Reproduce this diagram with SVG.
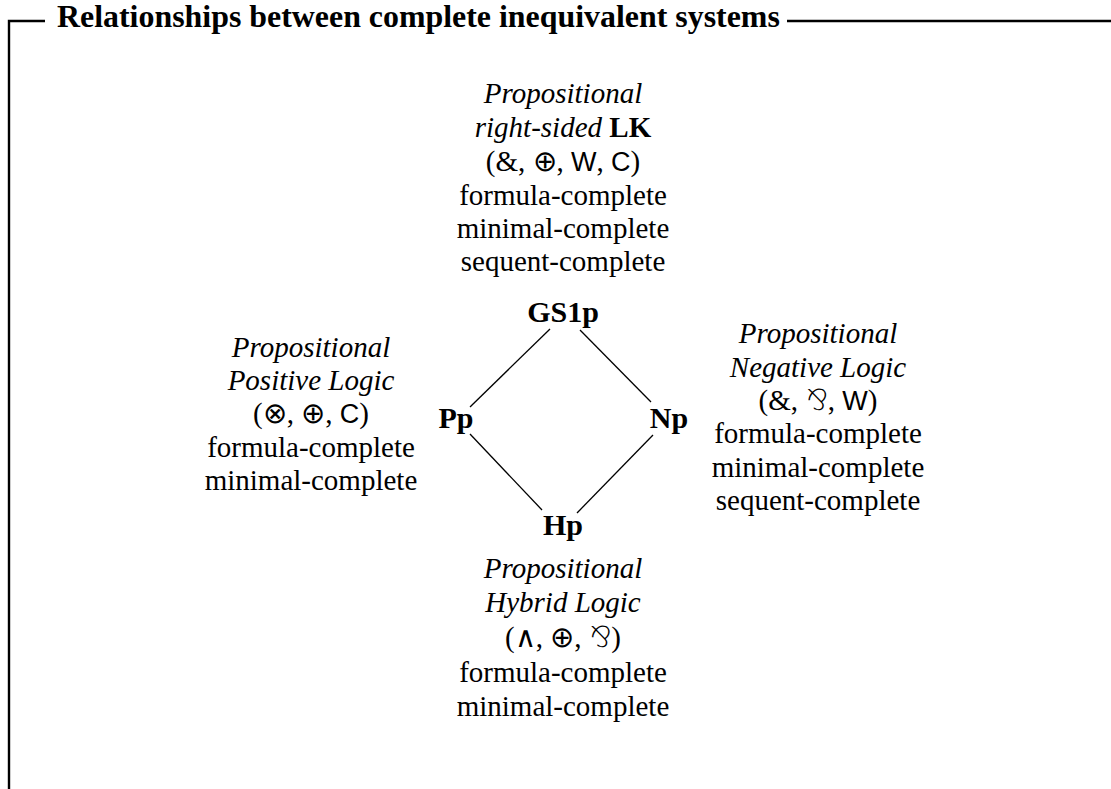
<svg xmlns="http://www.w3.org/2000/svg" width="1111" height="789" viewBox="0 0 1111 789">
<style>
.t{font-family:"Liberation Serif","Times New Roman",serif;font-size:29px;fill:#000;text-anchor:middle}
.i{font-style:italic}
.b{font-weight:bold}
.n{font-family:"Liberation Serif","Times New Roman",serif;font-size:30px;font-weight:bold;text-anchor:middle;fill:#000}
.sf{font-family:"Liberation Sans",Arial,sans-serif;font-size:27px}
.op{font-family:"DejaVu Sans",sans-serif;font-size:29px;font-weight:200}
.title{font-family:"Liberation Serif","Times New Roman",serif;font-size:31.9px;font-weight:bold;fill:#000}
.frame{fill:none;stroke:#000;stroke-width:2.4}
.edge{stroke:#000;stroke-width:1.3;fill:none}
</style>
<rect width="1111" height="789" fill="#fff"/>
<g id="frame">
<path class="frame" d="M9,789 V21 H45 M787,21 H1111"/>
<text class="title" x="57" y="27">Relationships between complete inequivalent systems</text>
</g>
<g id="connectors">
<line class="edge" x1="550" y1="329" x2="470" y2="407"/>
<line class="edge" x1="580" y1="330" x2="651" y2="402"/>
<line class="edge" x1="470" y1="434" x2="542" y2="510"/>
<line class="edge" x1="653" y1="435" x2="577" y2="513"/>
</g>
<g id="GS1p">
<text class="n" x="563" y="322">GS1p</text>
<text class="t i" x="563" y="103">Propositional</text>
<text class="t" x="563" y="137"><tspan class="i">right-sided </tspan><tspan class="b">LK</tspan></text>
<text class="t" x="563" y="171">(&amp;, <tspan class="op">⊕</tspan>, <tspan class="sf">W</tspan>, <tspan class="sf">C</tspan>)</text>
<text class="t" x="563" y="205">formula-complete</text>
<text class="t" x="563" y="238">minimal-complete</text>
<text class="t" x="563" y="271">sequent-complete</text>
</g>
<g id="Pp">
<text class="n" x="456" y="428">Pp</text>
<text class="t i" x="311" y="357">Propositional</text>
<text class="t i" x="311" y="390">Positive Logic</text>
<text class="t" x="311" y="423">(<tspan class="op">⊗</tspan>, <tspan class="op">⊕</tspan>, <tspan class="sf">C</tspan>)</text>
<text class="t" x="311" y="457">formula-complete</text>
<text class="t" x="311" y="490">minimal-complete</text>
</g>
<g id="Np">
<text class="n" x="669" y="428">Np</text>
<text class="t i" x="818" y="343">Propositional</text>
<text class="t i" x="818" y="377">Negative Logic</text>
<text class="t" x="818" y="410">(&amp;, <tspan class="op">⅋</tspan>, <tspan class="sf">W</tspan>)</text>
<text class="t" x="818" y="443">formula-complete</text>
<text class="t" x="818" y="477">minimal-complete</text>
<text class="t" x="818" y="510">sequent-complete</text>
</g>
<g id="Hp">
<text class="n" x="563" y="535">Hp</text>
<text class="t i" x="563" y="578">Propositional</text>
<text class="t i" x="563" y="612">Hybrid Logic</text>
<text class="t" x="563" y="647">(<tspan class="op">∧</tspan>, <tspan class="op">⊕</tspan>, <tspan class="op">⅋</tspan>)</text>
<text class="t" x="563" y="682">formula-complete</text>
<text class="t" x="563" y="716">minimal-complete</text>
</g>
</svg>
